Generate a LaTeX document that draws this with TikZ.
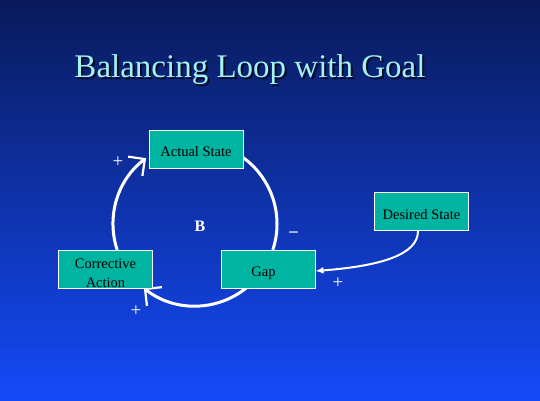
\documentclass[tikz,border=0pt]{standalone}
\usepackage{fontspec}
\setmainfont{Liberation Serif}
\usetikzlibrary{arrows.meta,calc}
\definecolor{bgtop}{RGB}{9,26,90}
\definecolor{bgmid}{RGB}{16,56,192}
\definecolor{bgbot}{RGB}{20,74,248}
\definecolor{boxfill}{RGB}{0,180,162}
\definecolor{titlecol}{RGB}{165,240,240}
\definecolor{shadowcol}{RGB}{2,10,40}
\begin{document}
\begin{tikzpicture}[x=1pt,y=1pt,
  box/.style={draw=white, line width=1pt, fill=boxfill, minimum width=94pt,
    minimum height=38pt, inner sep=0pt, align=center, text=black,
    font=\fontsize{14.5}{19}\selectfont},
  onebox/.style={box, text height=15.6pt, text depth=0pt},
  loopline/.style={white, line width=3pt},
  barbtip/.style={-{Straight Barb[length=12pt,width=24pt,line width=2.2pt]}},
  sign/.style={white, inner sep=0pt, font=\fontsize{19}{19}\selectfont},
  titlefont/.style={inner sep=0pt, font=\fontsize{33}{36}\selectfont}]
\useasboundingbox (0,0) rectangle (540,400);
\shade[top color=bgtop, middle color=bgmid, bottom color=bgbot] (0,0) rectangle (540,400);

% title with shadow
\node[titlefont, text=shadowcol] (titleshadow) at (252,328) {Balancing Loop with Goal};
\node[titlefont, text=titlecol] (title) at (250,330) {Balancing Loop with Goal};

% loop
\coordinate (loopc) at (195,176);
\draw[loopline] ($(loopc)+(54:82)$) arc[start angle=54, end angle=-18.4, radius=82];
\draw[loopline, barbtip] ($(loopc)+(198.4:82)$) arc[start angle=198.4, end angle=126.6, radius=82];
\draw[loopline, barbtip] ($(loopc)+(-51.4:82)$) arc[start angle=-51.4, end angle=-128.6, radius=82];

% boxes
\node[onebox] (actual) at (196,251) {Actual State};
\node[box] (corrective) at (105.5,131) {\rule{0pt}{18pt}Corrective\\Action};
\node[onebox] (gap) at (268,131) {\hspace*{-9pt}Gap};
\node[onebox] (desired) at (421.5,188.5) {Desired State};

% desired -> gap
\draw[white, line width=2pt, -{Latex[length=8pt,width=7pt]}]
  ([xshift=-3.5pt]desired.south) .. controls (418,145) and (380,134) .. ([yshift=-2pt]gap.east);

% signs
\node[sign] (s1) at (118,238) {+};
\node[sign] (s2) at (136,89) {+};
\node[sign] (s3) at (338,117) {+};
\node[white, inner sep=0pt, font=\fontsize{17}{17}\selectfont\bfseries] (s4) at (293.5,166) {–};
\node[white, inner sep=0pt, font=\fontsize{16}{16}\selectfont\bfseries] (loopB) at (200,174) {B};
\end{tikzpicture}
\end{document}
